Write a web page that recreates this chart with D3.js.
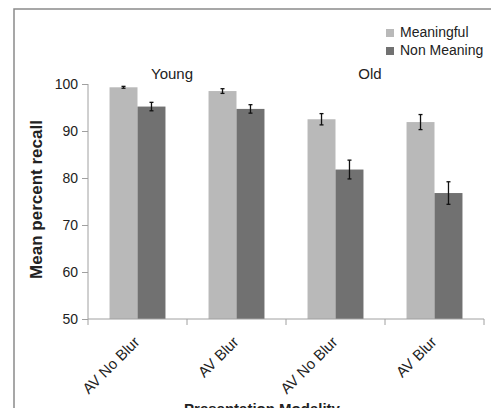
<!DOCTYPE html>
<html>
<head>
    <meta charset="UTF-8">
    <title>Mean percent recall</title>
    <script src="https://cdn.jsdelivr.net/npm/d3@7/dist/d3.min.js"></script>
    <style>
        body { margin: 0; background: #fff; }
        text { font-family: Arial, "Liberation Sans", sans-serif; fill: #222; }
    </style>
</head>
<body>
<svg id="chart" width="491" height="408"></svg>
<script>
    // data
    var categories = ["Young AV No Blur", "Young AV Blur", "Old AV No Blur", "Old AV Blur"];
    var tickLabels = ["AV No Blur", "AV Blur", "AV No Blur", "AV Blur"];
    var seriesNames = ["Meaningful", "Non Meaning"];
    var meaningful = [99.3, 98.5, 92.5, 91.9];
    var meaningfulErr = [0.2, 0.5, 1.2, 1.6];
    var nonMeaning = [95.2, 94.7, 81.8, 76.8];
    var nonMeaningErr = [0.9, 0.9, 2.0, 2.4];
    var groupLabels = ["Young", "Old"];
    var yTicks = [50, 60, 70, 80, 90, 100];

    var colors = ["#b9b9b9", "#717171"];

    var svg = d3.select("#chart");

    // outer frame
    svg.append("rect")
        .attr("x", 14).attr("y", 9)
        .attr("width", 500).attr("height", 420)
        .attr("fill", "none")
        .attr("stroke", "#8a8a8a")
        .attr("stroke-width", 1.5);

    var plotLeft = 88, plotRight = 484, plotTop = 84, plotBottom = 319;

    var x0 = d3.scaleBand().domain(categories).range([plotLeft, plotRight]);
    var x1 = d3.scaleBand().domain(seriesNames)
        .range([0, x0.bandwidth()])
        .paddingInner(0).paddingOuter(0.77);
    var y = d3.scaleLinear().domain([50, 100]).range([plotBottom, plotTop]);

    var rows = categories.map(function(c, i) {
        return [
            { cat: c, s: seriesNames[0], v: meaningful[i], e: meaningfulErr[i], color: colors[0] },
            { cat: c, s: seriesNames[1], v: nonMeaning[i], e: nonMeaningErr[i], color: colors[1] }
        ];
    });
    var bars = [].concat.apply([], rows);

    svg.selectAll("rect.bar")
        .data(bars)
        .enter()
        .append("rect")
        .attr("class", "bar")
        .attr("x", function(d) { return x0(d.cat) + x1(d.s); })
        .attr("y", function(d) { return y(d.v); })
        .attr("width", x1.bandwidth())
        .attr("height", function(d) { return y(50) - y(d.v); })
        .attr("fill", function(d) { return d.color; });

    // error bars
    var err = svg.selectAll("g.err")
        .data(bars)
        .enter()
        .append("g")
        .attr("class", "err")
        .attr("stroke", "#111")
        .attr("stroke-width", 1.3);
    var cx = function(d) { return x0(d.cat) + x1(d.s) + x1.bandwidth() / 2; };
    err.append("line")
        .attr("x1", cx).attr("x2", cx)
        .attr("y1", function(d) { return y(d.v + d.e); })
        .attr("y2", function(d) { return y(d.v - d.e); });
    err.append("line")
        .attr("x1", function(d) { return cx(d) - 2; })
        .attr("x2", function(d) { return cx(d) + 2; })
        .attr("y1", function(d) { return y(d.v + d.e); })
        .attr("y2", function(d) { return y(d.v + d.e); });
    err.append("line")
        .attr("x1", function(d) { return cx(d) - 2; })
        .attr("x2", function(d) { return cx(d) + 2; })
        .attr("y1", function(d) { return y(d.v - d.e); })
        .attr("y2", function(d) { return y(d.v - d.e); });

    // y axis
    var yAxis = svg.append("g")
        .attr("transform", "translate(" + plotLeft + ",0)")
        .call(d3.axisLeft(y).tickValues(yTicks).tickSize(6).tickPadding(4));
    yAxis.selectAll("path, line").attr("stroke", "#a0a0a0");
    yAxis.select("path").attr("d", "M0," + plotBottom + "V" + plotTop);
    yAxis.selectAll("text")
        .style("font-size", "14px")
        .style("font-family", "Arial, 'Liberation Sans', sans-serif")
        .attr("fill", "#222");

    // x axis: ticks sit on the band edges
    var xAxisG = svg.append("g")
        .attr("transform", "translate(0," + plotBottom + ")");
    xAxisG.append("line")
        .attr("x1", plotLeft).attr("x2", plotRight)
        .attr("stroke", "#a0a0a0");
    var edges = categories.map(function(c) { return x0(c); }).concat([plotRight]);
    xAxisG.selectAll("line.tick")
        .data(edges)
        .enter()
        .append("line")
        .attr("class", "tick")
        .attr("x1", function(d) { return d; })
        .attr("x2", function(d) { return d; })
        .attr("y1", 0).attr("y2", 6)
        .attr("stroke", "#a0a0a0");

    svg.selectAll("text.xlab")
        .data(categories)
        .enter()
        .append("text")
        .attr("class", "xlab")
        .attr("text-anchor", "end")
        .style("font-size", "15px")
        .attr("transform", function(d) {
            return "translate(" + (x0(d) + x0.bandwidth() / 2 + 3) + "," + (plotBottom + 24) + ") rotate(-45)";
        })
        .text(function(d, i) { return tickLabels[i]; });

    // group labels Young / Old
    svg.selectAll("text.group")
        .data(groupLabels)
        .enter()
        .append("text")
        .attr("class", "group")
        .attr("text-anchor", "middle")
        .style("font-size", "15px")
        .attr("x", function(d, i) { return x0(categories[i * 2 + 1]) - 15; })
        .attr("y", 79)
        .text(function(d) { return d; });

    // axis titles
    svg.append("text")
        .attr("text-anchor", "middle")
        .style("font-size", "17px")
        .style("font-weight", "bold")
        .attr("transform", "translate(42," + ((plotTop + plotBottom) / 2 - 2) + ") rotate(-90)")
        .text("Mean percent recall");

    svg.append("text")
        .attr("text-anchor", "middle")
        .style("font-size", "15px")
        .style("font-weight", "bold")
        .attr("x", 262)
        .attr("y", 414)
        .text("Presentation Modality");

    // legend
    var legend = svg.selectAll("g.legend")
        .data(seriesNames)
        .enter()
        .append("g")
        .attr("class", "legend")
        .attr("transform", function(d, i) { return "translate(386," + (29 + i * 18) + ")"; });
    legend.append("rect")
        .attr("width", 8).attr("height", 8)
        .attr("fill", function(d, i) { return colors[i]; });
    legend.append("text")
        .attr("x", 14).attr("y", 8)
        .style("font-size", "14px")
        .text(function(d) { return d; });
</script>
</body>
</html>
